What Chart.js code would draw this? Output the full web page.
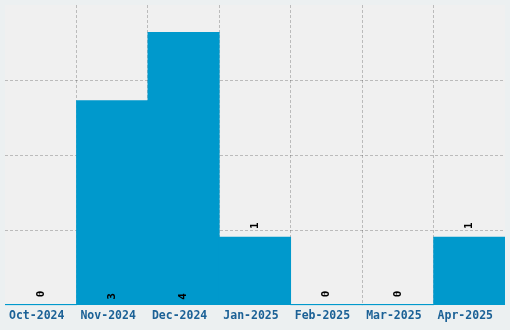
<!DOCTYPE html>
<html>
<head>
<meta charset="utf-8">
<script src="https://cdn.jsdelivr.net/npm/chart.js@4"></script>
<style>
  html, body { margin: 0; padding: 0; background: #ecf0f1; }
  #wrap { width: 510px; height: 330px; position: relative; }
</style>
</head>
<body>
<div id="wrap"><canvas id="myChart"></canvas></div>
<script>
var meses = ["Oct-2024", "Nov-2024", "Dec-2024", "Jan-2025", "Feb-2025", "Mar-2025", "Apr-2025"];
var cantidades = [0, 3, 4, 1, 0, 0, 1];
var yMax = 4.4;
var yStep = 1.1;

// fondo gris del area del grafico
var areaFondo = {
  id: "areaFondo",
  beforeDraw: function (chart) {
    var a = chart.chartArea;
    var ctx = chart.ctx;
    ctx.save();
    ctx.fillStyle = "#f0f0f0";
    ctx.fillRect(a.left, a.top, a.right - a.left, a.bottom - a.top);
    ctx.restore();
  },
};

// linea base azul y etiquetas verticales con el valor
var etiquetas = {
  id: "etiquetas",
  afterDraw: function (chart) {
    var ctx = chart.ctx;
    var a = chart.chartArea;
    var meta = chart.getDatasetMeta(0);
    ctx.save();
    ctx.strokeStyle = "#0099cc";
    ctx.lineWidth = 1;
    ctx.beginPath();
    ctx.moveTo(a.left, Math.round(a.bottom) - 0.5);
    ctx.lineTo(a.right, Math.round(a.bottom) - 0.5);
    ctx.stroke();

    ctx.font = "bold 11px 'DejaVu Sans Mono'";
    ctx.fillStyle = "#000";
    ctx.textBaseline = "middle";
    ctx.textAlign = "left";
    meta.data.forEach(function (bar, i) {
      var v = cantidades[i];
      var y;
      if (v >= 3) {
        y = bar.base - 5;
      } else {
        y = bar.y - 8;
      }
      ctx.save();
      ctx.translate(bar.x, y);
      ctx.rotate(-Math.PI / 2);
      ctx.fillText(String(v), 0, 0);
      ctx.restore();
    });
    ctx.restore();
  },
};

const ctx = document.getElementById("myChart").getContext("2d");
new Chart(ctx, {
  type: "bar",
  data: {
    labels: meses,
    datasets: [
      {
        data: cantidades,
        backgroundColor: "#0099cc",
        borderWidth: 0,
        barPercentage: 1,
        categoryPercentage: 1,
      },
    ],
  },
  options: {
    responsive: true,
    maintainAspectRatio: false,
    animation: false,
    layout: { padding: { left: 5, right: 5, top: 5, bottom: 3 } },
    plugins: {
      legend: { display: false },
      tooltip: { enabled: false },
    },
    scales: {
      x: {
        z: 1,
        offset: true,
        grid: {
          offset: true,
          drawTicks: false,
          lineWidth: 1,
          color: function (c) {
            if (!c.tick || c.index === 0) return "rgba(0,0,0,0)";
            return "rgba(0,0,0,0.22)";
          },
        },
        border: { display: false, dash: [3, 2] },
        ticks: {
          color: "#1b6196",
          font: { family: "'DejaVu Sans Mono'", size: 11.5, weight: "bold" },
          padding: 4,
          labelOffset: -4,
          maxRotation: 0,
          autoSkip: false,
        },
      },
      y: {
        z: 1,
        min: 0,
        max: yMax,
        afterFit: function (s) { s.width = 0; },
        afterBuildTicks: function (s) {
          var t = [];
          for (var k = 0; k <= 4; k++) t.push({ value: Math.round(k * yStep * 10) / 10 });
          s.ticks = t;
        },
        grid: {
          drawTicks: false,
          color: function (c) {
            if (c.tick && (c.tick.value === 0 || c.tick.value >= yMax)) return "rgba(0,0,0,0)";
            return "rgba(0,0,0,0.22)";
          },
        },
        border: { display: false, dash: [3, 2] },
        ticks: { display: false },
      },
    },
  },
  plugins: [areaFondo, etiquetas],
});
</script>
</body>
</html>
